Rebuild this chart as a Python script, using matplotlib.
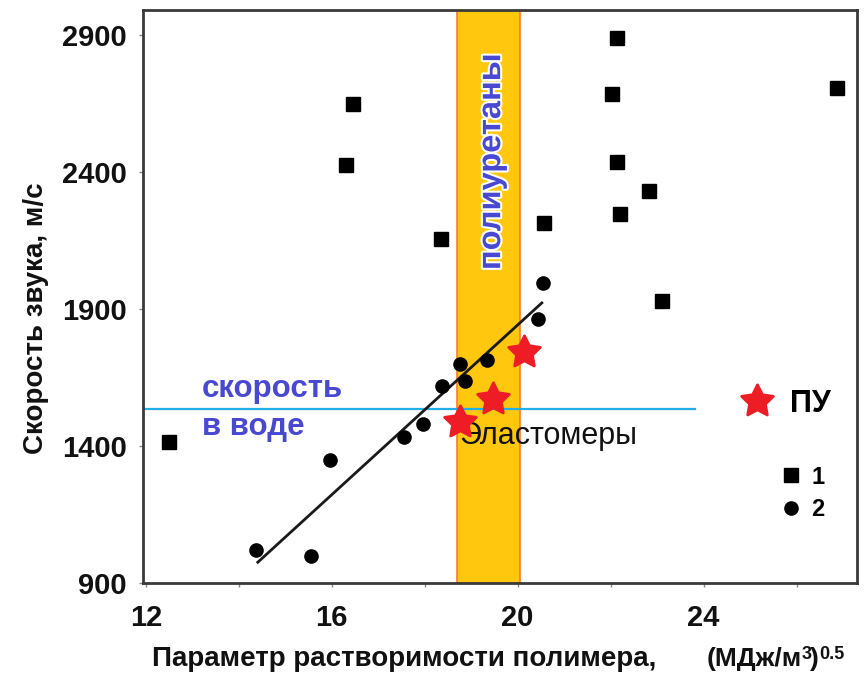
import numpy as np
import matplotlib
matplotlib.use('Agg')
import matplotlib.pyplot as plt
from matplotlib.path import Path
from matplotlib.markers import MarkerStyle
from matplotlib.ticker import FixedLocator
import matplotlib.patheffects as pe

plt.rcParams['font.family'] = ['Liberation Sans', 'DejaVu Sans']

# ---- data ----
# series 1 (squares)
s1_x = [12.5, 16.3, 16.45, 18.34, 20.56, 22.13, 22.04, 22.13, 22.2, 22.82, 23.1, 26.88]
s1_y = [1413, 2425, 2647, 2155, 2214, 2887, 2683, 2436, 2246, 2330, 1930, 2705]
# series 2 (circles)
s2_x = [14.37, 15.55, 15.96, 17.55, 17.96, 18.37, 18.75, 18.86, 19.35, 20.43, 20.54]
s2_y = [1020, 998, 1348, 1431, 1479, 1617, 1697, 1635, 1715, 1864, 1995]
# polyurethanes (stars)
pu_x = [18.77, 19.46, 20.13]
pu_y = [1486, 1570, 1744]
trend_x_range = [14.41, 20.52]
band_x = [18.69, 20.06]
water_speed = 1533
water_x_end = 23.82
xticks_major = [12, 16, 20, 24]
xticks_minor = [14, 18, 22, 26]
yticks = [900, 1400, 1900, 2400, 2900]
xlim = (11.94, 27.3)
ylim = (900, 2990)

BLUE_TXT = '#4848D0'
RED = '#EE1C25'
W, H = 864, 675


def star_path(n=5, inner=0.5):
    k = np.arange(2 * n)
    ang = k * np.pi / n + np.pi / 2
    r = np.where(k % 2 == 0, 1.0, inner)
    verts = np.c_[r * np.cos(ang), r * np.sin(ang)]
    verts = np.vstack([verts, verts[0]])
    codes = [Path.MOVETO] + [Path.LINETO] * (2 * n - 1) + [Path.CLOSEPOLY]
    return Path(verts, codes)


star = MarkerStyle(star_path(), joinstyle='round')

fig = plt.figure(figsize=(8.64, 6.75), dpi=100)
ax = fig.add_axes([143 / W, 1 - 583 / H, (857 - 143) / W, (583 - 10) / H])
ax.set_xlim(*xlim)
ax.set_ylim(*ylim)

# band "полиуретаны"
ax.axvspan(band_x[0], band_x[1], facecolor='#FFC70E', edgecolor='#F58025', linewidth=1.2, zorder=1)

# water speed line
ax.plot([xlim[0], water_x_end], [water_speed, water_speed], color='#22AEE6', lw=1.6, zorder=2)

# trend line fitted through series 2
coef = np.polyfit(s2_x, s2_y, 1)
tx = np.array(trend_x_range)
ax.plot(tx, np.polyval(coef, tx), color='#1a1a1a', lw=2.0, zorder=3)

sq, = ax.plot(s1_x, s1_y, 's', color='black', markersize=10, linestyle='none', zorder=4)
ci, = ax.plot(s2_x, s2_y, 'o', color='black', markersize=9.5, linestyle='none', zorder=4)

# texts
ax.text(13.2, 1577, 'скорость', color=BLUE_TXT, fontsize=22.5, fontweight='bold', ha='left', va='baseline', zorder=5)
ax.text(13.2, 1439, 'в воде', color=BLUE_TXT, fontsize=22.5, fontweight='bold', ha='left', va='baseline', zorder=5)
ax.text(19.44, 2436, 'полиуретаны', color=BLUE_TXT, fontsize=23.5, fontweight='bold', rotation=90,
        ha='center', va='center', zorder=5,
        path_effects=[pe.withStroke(linewidth=3, foreground='white')])
ax.text(18.75, 1406, 'Эластомеры', color='#111111', fontsize=22, ha='left', va='baseline', zorder=5)

st, = ax.plot(pu_x, pu_y, linestyle='none', marker=star, color=RED, markersize=24,
              markeredgewidth=2, markeredgecolor=RED, zorder=6)

# axes styling
for s in ax.spines.values():
    s.set_linewidth(2.0)
    s.set_color('#3a3a3a')
ax.xaxis.set_major_locator(FixedLocator(xticks_major))
ax.xaxis.set_minor_locator(FixedLocator(xticks_minor))
ax.yaxis.set_major_locator(FixedLocator(yticks))
ax.set_xticklabels([str(v) for v in xticks_major])
ax.set_yticklabels([str(v) for v in yticks])
ax.tick_params(axis='both', which='both', direction='out', length=3, width=1, color='#888888')
ax.tick_params(axis='x', which='major', labelsize=21, pad=12)
ax.tick_params(axis='y', which='major', labelsize=21, pad=8.5)
for lab in ax.get_xticklabels() + ax.get_yticklabels():
    lab.set_fontweight('bold')
    lab.set_color('#111111')

# axis labels
fig.text(36 / W, 1 - 318 / H, 'Скорость звука, м/с', rotation=90, fontsize=20, fontweight='bold',
         ha='center', va='center', color='#111111')
yb = 1 - 666 / H
fig.text(152 / W, yb, 'Параметр растворимости полимера,', fontsize=20, fontweight='bold',
         ha='left', va='baseline', color='#111111')

# units (МДж/м3)^0.5 built from pieces
fig.canvas.draw()
rend = fig.canvas.get_renderer()
unit_parts = [('(МДж/м', 19, 0, 0), ('3', 13, 7, -1), (')', 19, 0, -1), ('0.5', 13, 7, 0)]
xcur = 707
for txt, size, raise_px, gap in unit_parts:
    t = fig.text((xcur + gap) / W, yb + raise_px / H, txt, fontsize=size, fontweight='bold',
                 ha='left', va='baseline', color='#111111')
    xcur = t.get_window_extent(rend).x1

# legends
leg1 = ax.legend([st], ['ПУ'], loc='center left', bbox_to_anchor=(738.7 / W, 1 - 404 / H),
                 bbox_transform=fig.transFigure, frameon=False, borderpad=0, borderaxespad=0,
                 handlelength=1.2, handletextpad=0.48, prop={'size': 22, 'weight': 'bold'})
ax.add_artist(leg1)
leg2 = ax.legend([sq, ci], ['1', '2'], loc='center left', bbox_to_anchor=(781.5 / W, 1 - 493.5 / H),
                 bbox_transform=fig.transFigure, frameon=False, borderpad=0, borderaxespad=0,
                 handlelength=0.8, handletextpad=0.45, labelspacing=0.42,
                 prop={'size': 17, 'weight': 'bold'})

fig.savefig('out.png', dpi=100)
